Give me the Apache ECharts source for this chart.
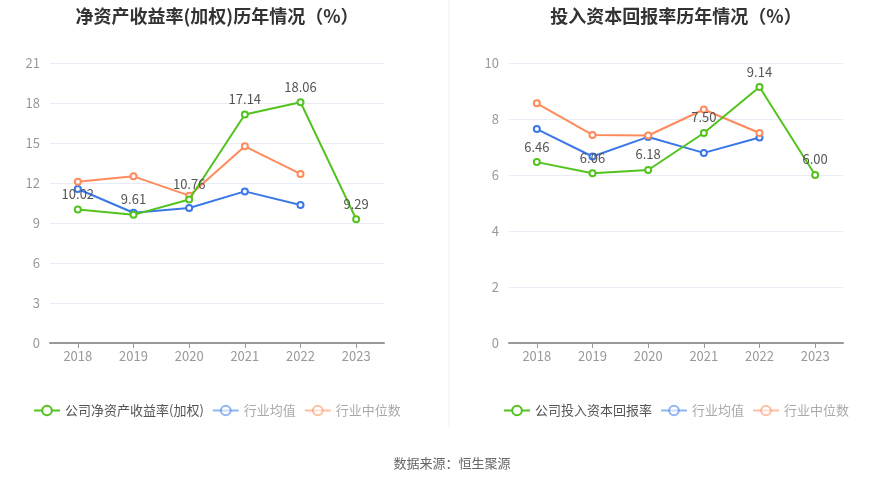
<!DOCTYPE html>
<html><head><meta charset="utf-8">
<script src="https://cdn.jsdelivr.net/npm/echarts@6/dist/echarts.min.js"></script>
<style>html,body{margin:0;padding:0;background:#fff}#c{width:893px;height:481px}</style>
</head><body><div id="c"></div>
<script>
const years = ['2018','2019','2020','2021','2022','2023'];
const roeCompany = [10.02, 9.61, 10.76, 17.14, 18.06, 9.29];
const roeIndustryAvg = [11.55, 9.77, 10.13, 11.37, 10.35, null];
const roeIndustryMedian = [12.1, 12.5, 11.05, 14.75, 12.68, null];
const roicCompany = [6.46, 6.06, 6.18, 7.50, 9.14, 6.00];
const roicIndustryAvg = [7.64, 6.66, 7.36, 6.79, 7.34, null];
const roicIndustryMedian = [8.56, 7.43, 7.41, 8.34, 7.50, null];
const leftTicks = {min:0, max:21, interval:3};
const rightTicks = {min:0, max:10, interval:2};

const GREEN='#52c31c', BLUE='#3b78e7', ORANGE='#ff8a5c';
const font='"Noto Sans CJK SC", "Noto Sans", sans-serif';
function line(name, data, color, xi, label){
  return {name, type:'line', data, xAxisIndex:xi, yAxisIndex:xi,
    symbol:'emptyCircle', symbolSize:6, showAllSymbol:true,
    lineStyle:{width:2,color}, itemStyle:{color, borderWidth:2},
    label: label ? {show:true, position:'top', color:'#555', fontSize:13, fontFamily:font, formatter:p=>p.value.toFixed(2)} : {show:false},
    connectNulls:false, z: label?3:2};
}
function xAxis(gi){return {type:'category', gridIndex:gi, data:years, boundaryGap:true,
  axisLine:{lineStyle:{color:'#999', width:2}}, axisTick:{show:true, alignWithLabel:true, lineStyle:{color:'#999'}},
  axisLabel:{color:'#999', fontSize:13, fontFamily:font, margin:7}};}
function yAxis(gi,t){return {type:'value', gridIndex:gi, min:t.min, max:t.max, interval:t.interval,
  axisLine:{show:false}, axisTick:{show:false},
  axisLabel:{color:'#999', fontSize:13, fontFamily:font, margin:10},
  splitLine:{lineStyle:{color:'#e8edf5'}}};}
function legendItems(first){
  return [{name:first, textStyle:{color:'#555'}},
    {name:'行业均值', textStyle:{color:'#aaa'}, itemStyle:{opacity:0.55}, lineStyle:{opacity:0.55}},
    {name:'行业中位数', textStyle:{color:'#aaa'}, itemStyle:{opacity:0.55}, lineStyle:{opacity:0.55}}];
}
const chart = echarts.init(document.getElementById('c'));
chart.setOption({
  animation:false,
  title:[
    {text:'净资产收益率(加权)历年情况（%）', left:212, top:2, textAlign:'center', textStyle:{fontSize:18, fontWeight:'bold', color:'#333', fontFamily:font}},
    {text:'投入资本回报率历年情况（%）', left:671, top:2, textAlign:'center', textStyle:{fontSize:18, fontWeight:'bold', color:'#333', fontFamily:font}},
    {text:'数据来源：恒生聚源', left:447, top:452, textAlign:'center', textStyle:{fontSize:13, fontWeight:'normal', color:'#666', fontFamily:font}}
  ],
  graphic:[{type:'line', shape:{x1:449,y1:0,x2:449,y2:428}, style:{stroke:'#f0f0f0', lineWidth:1}}],
  legend:[
    {left:28, top:399, itemWidth:26, itemHeight:12, itemGap:8, textStyle:{fontSize:13, fontFamily:font}, data:legendItems('公司净资产收益率(加权)')},
    {left:498, top:399, itemWidth:26, itemHeight:12, itemGap:8, textStyle:{fontSize:13, fontFamily:font}, data:legendItems('公司投入资本回报率')}
  ],
  grid:[
    {left:50, right:509, top:63, bottom:138},
    {left:509, right:50, top:63, bottom:138}
  ],
  xAxis:[xAxis(0), xAxis(1)],
  yAxis:[yAxis(0,leftTicks), yAxis(1,rightTicks)],
  series:[
    line('公司净资产收益率(加权)', roeCompany, GREEN, 0, true),
    line('行业均值', roeIndustryAvg, BLUE, 0, false),
    line('行业中位数', roeIndustryMedian, ORANGE, 0, false),
    line('公司投入资本回报率', roicCompany, GREEN, 1, true),
    line('行业均值', roicIndustryAvg, BLUE, 1, false),
    line('行业中位数', roicIndustryMedian, ORANGE, 1, false)
  ]
});
</script></body></html>
